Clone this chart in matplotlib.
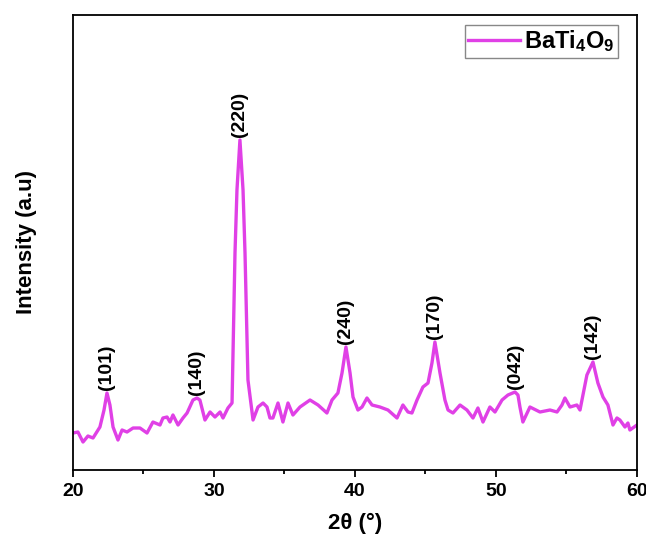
import matplotlib
matplotlib.use("Agg")
import matplotlib.pyplot as plt
from matplotlib.ticker import MultipleLocator

plt.rcParams['font.family'] = ['Liberation Sans', 'DejaVu Sans']
plt.rcParams['font.weight'] = 'bold'
plt.rcParams['mathtext.fontset'] = 'custom'
plt.rcParams['mathtext.rm'] = 'Liberation Sans'
plt.rcParams['mathtext.bf'] = 'Liberation Sans:bold'

# XRD pattern (arbitrary intensity units)
two_theta = [20.0, 20.35, 20.71, 21.06, 21.42, 21.91, 22.2, 22.41, 22.62, 22.84,
             23.19, 23.48, 23.83, 24.26, 24.75, 25.25, 25.67, 26.17, 26.38, 26.67,
             26.88, 27.09, 27.45, 27.8, 28.09, 28.51, 28.79, 29.0, 29.36, 29.72,
             30.07, 30.43, 30.64, 30.99, 31.28, 31.49, 31.63, 31.84, 32.06, 32.2,
             32.41, 32.77, 33.12, 33.48, 33.76, 33.97, 34.18, 34.54, 34.89, 35.25,
             35.6, 36.1, 36.81, 37.38, 38.01, 38.37, 38.79, 39.08, 39.36, 39.65,
             39.86, 40.21, 40.5, 40.85, 41.21, 41.77, 42.34, 42.98, 43.4, 43.76,
             44.04, 44.4, 44.82, 45.18, 45.46, 45.67, 46.03, 46.38, 46.6, 46.95,
             47.45, 47.94, 48.37, 48.72, 49.08, 49.57, 49.93, 50.43, 50.85, 51.35,
             51.56, 51.7, 51.91, 52.41, 53.12, 53.83, 54.33, 54.68, 54.89, 55.25,
             55.74, 55.96, 56.24, 56.45, 56.88, 57.23, 57.59, 57.94, 58.3, 58.58,
             58.79, 59.15, 59.36, 59.5, 60.0]
intensity = [370, 380, 280, 340, 320, 430, 600, 770, 650, 430,
             300, 400, 380, 420, 420, 370, 480, 450, 520, 530,
             480, 550, 450, 520, 570, 700, 720, 700, 500, 580,
             530, 580, 520, 620, 670, 2170, 2800, 3300, 2800, 2170,
             900, 500, 630, 670, 630, 520, 520, 670, 480, 670,
             550, 630, 700, 650, 570, 700, 770, 970, 1230, 970,
             730, 600, 630, 720, 650, 630, 600, 520, 650, 580,
             570, 700, 830, 870, 1070, 1280, 970, 700, 600, 570,
             650, 600, 520, 620, 480, 630, 580, 700, 750, 780,
             750, 630, 480, 630, 580, 600, 580, 650, 720, 630,
             650, 600, 800, 950, 1080, 870, 730, 650, 450, 520,
             500, 430, 470, 400, 450]

peak_pos = [22.41, 28.79, 31.84, 39.36, 45.67, 51.35, 56.88]
peak_int = [770, 720, 3300, 1230, 1280, 780, 1080]
peak_hkl = ["(101)", "(140)", "(220)", "(240)", "(170)", "(042)", "(142)"]

fig = plt.figure(figsize=(6.46, 5.45), dpi=100)
ax = fig.add_axes([0.113, 0.1376, 0.873, 0.8349])

ax.plot(two_theta, intensity, color="#e040e6", linewidth=2.4,
        label=r"$\mathbf{BaTi_4O_9}$")

for x, y, hkl in zip(peak_pos, peak_int, peak_hkl):
    ax.annotate(hkl, xy=(x, y), xytext=(0, 2), textcoords="offset points",
                rotation=90, ha="center", va="bottom",
                fontsize=14, fontweight="bold")

ax.set_xlim(20, 60)
ax.set_ylim(0, 4550)
ax.set_yticks([])
ax.xaxis.set_major_locator(MultipleLocator(10))
ax.xaxis.set_minor_locator(MultipleLocator(5))
ax.tick_params(axis="x", which="major", direction="out", length=5, width=1.3,
               labelsize=14, pad=4)
ax.tick_params(axis="x", which="minor", direction="out", length=3, width=1.3)
for s in ax.spines.values():
    s.set_linewidth(1.3)

ax.set_xlabel("2θ (°)", fontsize=16, fontweight="bold", labelpad=10)
ax.set_ylabel("Intensity (a.u)", fontsize=16, fontweight="bold", labelpad=26)

leg = ax.legend(loc="upper right", bbox_to_anchor=(0.966, 0.978),
                borderaxespad=0, fontsize=17, handlelength=2.2,
                handletextpad=0.15, borderpad=0.15,
                fancybox=False, framealpha=1, edgecolor="#888888")
leg.get_frame().set_linewidth(1.0)

fig.savefig("out.png", dpi=100)
